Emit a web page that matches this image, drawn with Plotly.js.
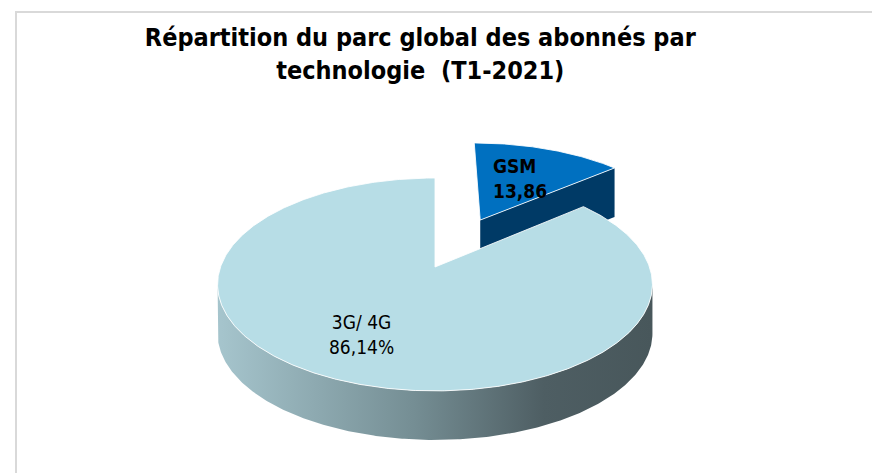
<!DOCTYPE html>
<html>
<head>
<meta charset="utf-8">
<script src="https://cdn.plot.ly/plotly-3.0.1.min.js"></script>
<style>html,body{margin:0;padding:0;background:#fff;}#chart{width:872px;height:473px;}</style>
</head>
<body>
<div id="chart"></div>
<script>
// ---- data ----
const categories = ['GSM', '3G/ 4G'];
const shares = [13.86, 86.14];
const shareLabels = ['13,86', '86,14%'];
const chartTitle = 'Répartition du parc global des abonnés par<br>technologie  (T1-2021)';

// ---- style / geometry ----
const G = {cx: 435, cy: 267, rx: 214.5, ry: 103.6, k: 0.164, depth: 49};
const pull = [0.54, 0];
const topColors = ['#0070C0', '#B7DDE6'];
const wallColors = ['#003A66', '#8FAEB6'];
const sideScale = [[0, '#a6c5cd'], [0.45, '#758e94'], [0.75, '#4e5e63'], [1, '#48575b']];
const FONT = 'Liberation Sans Narrow, Arial Narrow, DejaVu Sans Condensed, sans-serif';
const labelFonts = [
  {family: FONT, size: 19, color: '#000', weight: 'bold'},
  {family: FONT, size: 19, color: '#000', weight: 'normal'}
];
const labelShift = [0, -8];

function proj(X, Y, dz) {
  const s = 1 / (1 + G.k * Y);
  return [G.cx + G.rx * X * s, G.cy - G.ry * Y * s + (dz || 0)];
}
const rad = d => d * Math.PI / 180;

const total = shares.reduce((a, b) => a + b, 0);
let start = 90;
const slices = shares.map((v, i) => {
  const sweep = v / total * 360;
  const a0 = start, a1 = start - sweep;
  start = a1;
  const mid = (a0 + a1) / 2;
  return {i, a0, a1, mid, ox: pull[i] * Math.cos(rad(mid)), oy: pull[i] * Math.sin(rad(mid))};
});

const traces = [];
function poly(pts, opts) {
  traces.push(Object.assign({
    type: 'scatter', mode: 'lines', fill: 'toself',
    x: pts.map(p => p[0]), y: pts.map(p => p[1]),
    hoverinfo: 'skip', showlegend: false
  }, opts));
}

// draw far slices first
const order = slices.slice().sort((a, b) => Math.sin(rad(b.mid)) - Math.sin(rad(a.mid)));
const annotations = [];

order.forEach(sl => {
  const {i, a0, a1, ox, oy} = sl;
  // walls facing the viewer
  [[a1, Math.cos(rad(a1)) > 0.001], [a0, Math.cos(rad(a0)) < -0.001]].forEach(([a, vis]) => {
    if (!vis) return;
    const rimX = ox + Math.cos(rad(a)), rimY = oy + Math.sin(rad(a));
    poly([proj(ox, oy), proj(rimX, rimY), proj(rimX, rimY, G.depth), proj(ox, oy, G.depth), proj(ox, oy)],
      {fillcolor: wallColors[i], line: {width: 0, color: wallColors[i]}});
  });
  // visible outer side
  let run = [];
  const runs = [];
  for (let a = a0; a >= a1 - 1e-9; a -= 0.5) {
    if (Math.sin(rad(a)) < -G.k) run.push(a);
    else if (run.length) { runs.push(run); run = []; }
  }
  if (run.length) runs.push(run);
  runs.forEach(r => {
    const topArc = r.map(a => proj(ox + Math.cos(rad(a)), oy + Math.sin(rad(a))));
    const botArc = r.slice().reverse().map(a => proj(ox + Math.cos(rad(a)), oy + Math.sin(rad(a)), G.depth));
    const pts = topArc.concat(botArc);
    pts.push(topArc[0]);
    poly(pts, {fillcolor: '#7f969c', fillgradient: {type: 'horizontal', colorscale: sideScale}, line: {width: 0, color: '#7f969c'}});
  });
  // top face
  const pts = [proj(ox, oy)];
  for (let a = a0; a >= a1 - 1e-9; a -= 0.5) pts.push(proj(ox + Math.cos(rad(a)), oy + Math.sin(rad(a))));
  pts.push(proj(ox + Math.cos(rad(a1)), oy + Math.sin(rad(a1))));
  pts.push(proj(ox, oy));
  poly(pts, {fillcolor: topColors[i], line: {width: 1, color: 'rgba(255,255,255,0.85)'}});

  // label
  const r = i === 0 ? 0.55 : 0.65;
  const lp = proj(ox + r * Math.cos(rad(sl.mid)), oy + r * Math.sin(rad(sl.mid)));
  annotations.push({
    x: lp[0], y: lp[1], xref: 'x', yref: 'y', showarrow: false, xshift: labelShift[i],
    text: categories[i] + '<br>' + shareLabels[i],
    align: i === 0 ? 'left' : 'center', xanchor: 'center', yanchor: 'middle',
    font: labelFonts[i]
  });
});

const layout = {
  width: 872, height: 473, autosize: false,
  margin: {l: 0, r: 0, t: 0, b: 0},
  paper_bgcolor: '#ffffff', plot_bgcolor: '#ffffff',
  xaxis: {range: [0, 872], visible: false, fixedrange: true},
  yaxis: {range: [473, 0], visible: false, fixedrange: true},
  title: {
    text: '<b>' + chartTitle + '</b>',
    x: 0.482, xanchor: 'center', y: 0.902, yanchor: 'top', yref: 'container', xref: 'paper',
    font: {family: FONT, size: 25, color: '#000'}
  },
  shapes: [
    {type: 'line', xref: 'x', yref: 'y', x0: 15, x1: 872, y0: 12, y1: 12, line: {color: '#d9d9d9', width: 2}},
    {type: 'line', xref: 'x', yref: 'y', x0: 16, x1: 16, y0: 12, y1: 473, line: {color: '#d9d9d9', width: 2}}
  ],
  annotations: annotations
};

Plotly.newPlot('chart', traces, layout, {displayModeBar: false, staticPlot: true});
</script>
</body>
</html>
